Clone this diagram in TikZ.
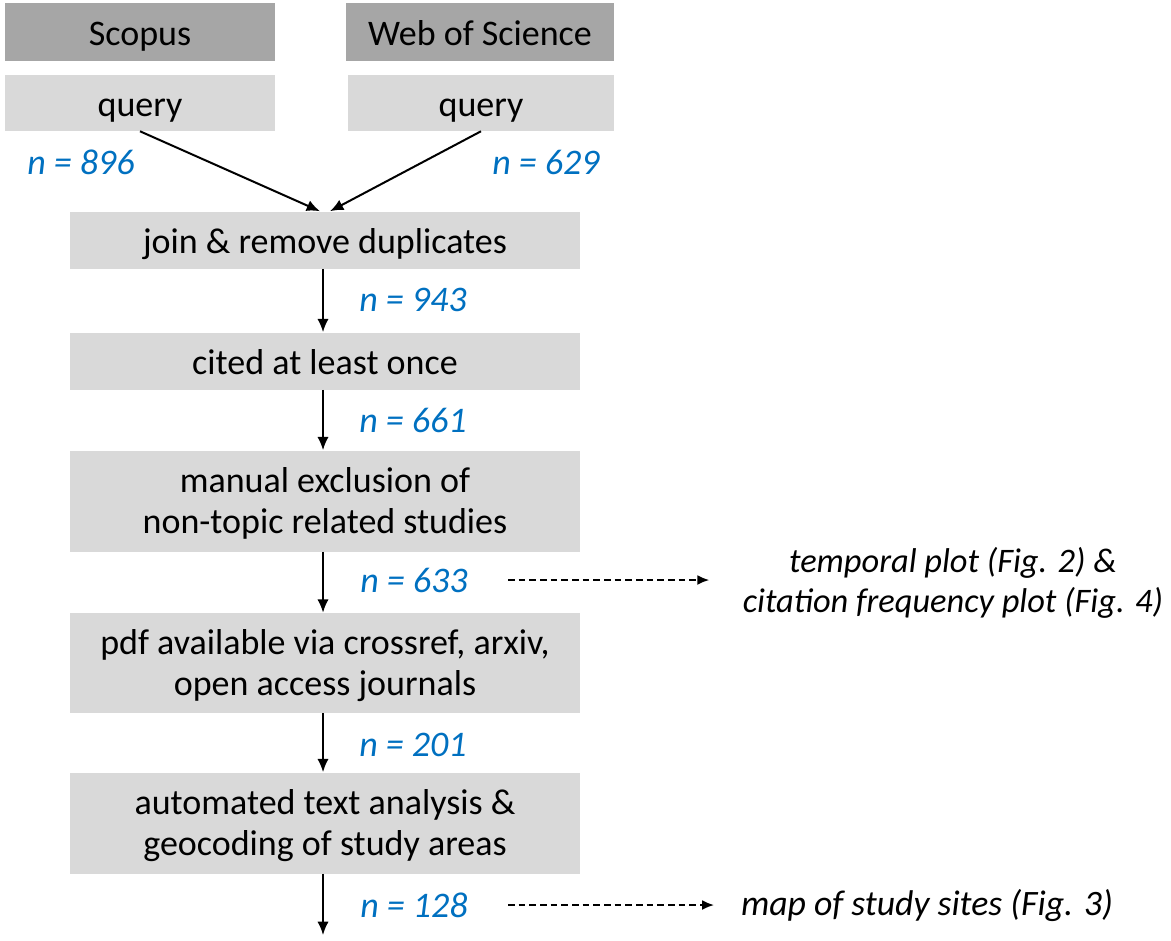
\documentclass[tikz,border=0pt]{standalone}
\usepackage{fontspec}
\setmainfont{Carlito}
\usetikzlibrary{arrows.meta,calc}
\definecolor{darkbox}{HTML}{A6A6A6}
\definecolor{lightbox}{HTML}{D9D9D9}
\definecolor{nblue}{HTML}{0070C0}
\newcommand\twoline[2]{\raisebox{-3.2pt}[\height][\depth]{\begin{tabular}{@{}c@{}}#1\\#2\end{tabular}}}
\begin{document}
\begin{tikzpicture}[x=0.75pt,y=-0.75pt,
  every node/.style={font=\fontsize{27pt}{30.75pt}\selectfont, inner sep=0pt},
  one/.style={text height=19.5pt, text depth=0pt},
  dbox/.style={fill=darkbox, minimum height=43.5pt, text=black, one},
  lbox/.style={fill=lightbox, text=black, align=center},
  nlab/.style={text=nblue, font=\fontsize{27pt}{30.75pt}\selectfont\itshape},
  outtxt/.style={font=\fontsize{25.8pt}{30pt}\selectfont\itshape, align=center},
  flow/.style={line width=1.5pt, -{Latex[length=10pt,width=8.5pt]}},
  dasharrow/.style={line width=1.5pt, dash pattern=on 5pt off 3pt, -{Latex[length=9pt,width=7.5pt]}}
]
\useasboundingbox (0,0) rectangle (1171,940);
% top boxes
\node[dbox, minimum width=202.5pt] (scopus) at (140,32) {Scopus};
\node[dbox, minimum width=201pt] (wos) at (480,32) {Web of Science};
\node[lbox, one, minimum width=202.5pt, minimum height=42pt] (q1) at (140,103) {query};
\node[lbox, one, minimum width=199.5pt, minimum height=42pt] (q2) at (481,103) {query};
% main column
\node[lbox, one, minimum width=382.5pt, minimum height=42.75pt] (join) at (325,240) {join \& remove duplicates};
\node[lbox, one, minimum width=382.5pt, minimum height=42.75pt] (cited) at (325,361) {cited at least once};
\node[lbox, minimum width=382.5pt, minimum height=75.75pt] (manual) at (325,501) {\twoline{manual exclusion of}{non-topic related studies}};
\node[lbox, minimum width=382.5pt, minimum height=75pt] (pdf) at (325,663) {\twoline{pdf available via crossref, arxiv,}{open access journals}};
\node[lbox, minimum width=382.5pt, minimum height=75.75pt] (auto) at (325,823) {\twoline{automated text analysis \&}{geocoding of study areas}};
\coordinate (bottom) at (323,935);
% n labels
\node[nlab] (n896) at (81,162) {n = 896};
\node[nlab] (n629) at (546,162) {n = 629};
\node[nlab] (n943) at (413,300) {n = 943};
\node[nlab] (n661) at (413,420) {n = 661};
\node[nlab] (n633) at (414,580) {n = 633};
\node[nlab] (n201) at (413,745) {n = 201};
\node[nlab] (n128) at (414,905) {n = 128};
% outputs
\node[outtxt] (fig24) at (953,583) {temporal plot (Fig. 2) \&\\citation frequency plot (Fig. 4)};
\node[outtxt, font=\fontsize{26.8pt}{30pt}\selectfont\itshape] (fig3) at (927,905) {map of study sites (Fig. 3)};
% connectors
\draw[flow] (q1.south) -- ([xshift=-3.75pt]join.north);
\draw[flow] (q2.south) -- ([xshift=3.75pt]join.north);
\draw[flow] ([xshift=-1.5pt]join.south) -- ([xshift=-1.5pt]cited.north);
\draw[flow] ([xshift=-1.5pt]cited.south) -- ([xshift=-1.5pt]manual.north);
\draw[flow] ([xshift=-1.5pt]manual.south) -- ([xshift=-1.5pt]pdf.north);
\draw[flow] ([xshift=-1.5pt]pdf.south) -- ([xshift=-1.5pt]auto.north);
\draw[flow] ([xshift=-1.5pt]auto.south) -- (bottom);
\draw[dasharrow] ([xshift=30pt]n633.east) -- ([xshift=-25pt]fig24.west |- n633);
\draw[dasharrow] ([xshift=30pt]n128.east) -- ([xshift=-20pt]fig3.west);
\end{tikzpicture}
\end{document}
